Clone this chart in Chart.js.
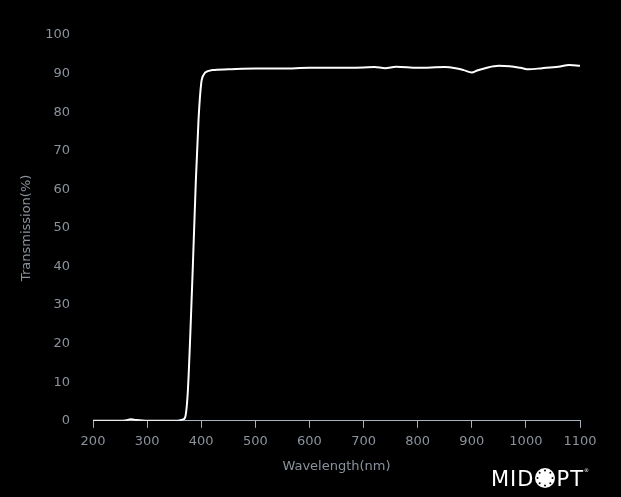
<!DOCTYPE html>
<html>
<head>
<meta charset="utf-8">
<script src="https://cdn.jsdelivr.net/npm/chart.js@4.4.1/dist/chart.umd.min.js"></script>
<style>
  html, body { margin: 0; padding: 0; background: #000; }
  #wrap { position: relative; width: 621px; height: 497px; }
  #logo { position: absolute; left: 491px; top: 458px; color: #fff; font-family: "DejaVu Sans", sans-serif; font-size: 21px; letter-spacing: 1px; line-height: 24px; white-space: nowrap; }
  #logo svg { vertical-align: -3px; }
  #logo sup { font-size: 5px; vertical-align: 14px; }
</style>
</head>
<body>
<div id="wrap">
  <canvas id="c" width="621" height="497"></canvas>
  <div id="logo">MID<svg width="22" height="22" viewBox="0 0 22 22"><circle cx="11" cy="11" r="10" fill="#fff"/><g fill="#000"><circle cx="11" cy="3.5" r="1"/><circle cx="16.3" cy="5.7" r="1"/><circle cx="18.5" cy="11" r="1"/><circle cx="16.3" cy="16.3" r="1"/><circle cx="11" cy="18.5" r="1"/><circle cx="5.7" cy="16.3" r="1"/><circle cx="3.5" cy="11" r="1"/><circle cx="5.7" cy="5.7" r="1"/></g></svg>PT<sup>®</sup></div>
</div>
<script>
const wavelengths = [200, 250, 260, 270, 280, 300, 350, 360, 365, 370, 375, 380, 385, 390, 395, 400, 405, 410, 420, 450, 500, 550, 600, 650, 700, 720, 740, 760, 800, 850, 870, 885, 900, 910, 930, 950, 970, 990, 1005, 1030, 1060, 1080, 1100];
const transmission = [0, 0, 0.1, 0.4, 0.2, 0, 0, 0.1, 0.3, 0.8, 7, 23, 42, 62, 78, 87.5, 89.8, 90.5, 90.9, 91.1, 91.3, 91.3, 91.5, 91.5, 91.6, 91.7, 91.4, 91.8, 91.5, 91.7, 91.4, 90.9, 90.3, 90.8, 91.6, 92.0, 91.9, 91.5, 91.1, 91.4, 91.8, 92.2, 92.0];
const xTicks = [200, 300, 400, 500, 600, 700, 800, 900, 1000, 1100];
const yTicks = [0, 10, 20, 30, 40, 50, 60, 70, 80, 90, 100];
const xTitle = 'Wavelength(nm)';
const yTitle = 'Transmission(%)';

const points = wavelengths.map((w, i) => ({ x: w, y: transmission[i] }));
const font = { family: '"DejaVu Sans", Verdana, sans-serif', size: 13 };
const textColor = '#8a929c';

new Chart(document.getElementById('c'), {
  type: 'line',
  data: { datasets: [{ data: points, borderColor: '#ffffff', borderWidth: 2, pointRadius: 0, tension: 0.3, cubicInterpolationMode: 'monotone', fill: false }] },
  options: {
    responsive: false,
    animation: false,
    layout: { padding: { left: 15, right: 41, top: 35, bottom: 19 } },
    plugins: { legend: { display: false }, tooltip: { enabled: false } },
    scales: {
      x: {
        type: 'linear', min: 200, max: 1100,
        afterBuildTicks: s => { s.ticks = xTicks.map(v => ({ value: v })); },
        ticks: { color: textColor, font: font, padding: 6, maxRotation: 0, callback: v => String(v) },
        grid: { drawOnChartArea: false, drawTicks: true, tickLength: 7, color: '#a9b3bf' },
        border: { display: true, color: '#a9b3bf', width: 1 },
        title: { display: true, text: xTitle, color: textColor, font: font, padding: { top: 3 } }
      },
      y: {
        type: 'linear', min: 0, max: 100,
        afterBuildTicks: s => { s.ticks = yTicks.map(v => ({ value: v })); },
        afterFit: s => { s.width = 78; },
        ticks: { color: textColor, font: font, padding: 23, callback: v => String(v) },
        grid: { display: false, drawTicks: false },
        border: { display: false },
        title: { display: true, text: yTitle, color: textColor, font: font, padding: { top: 4, bottom: 0 } }
      }
    }
  }
});
</script>
</body>
</html>
